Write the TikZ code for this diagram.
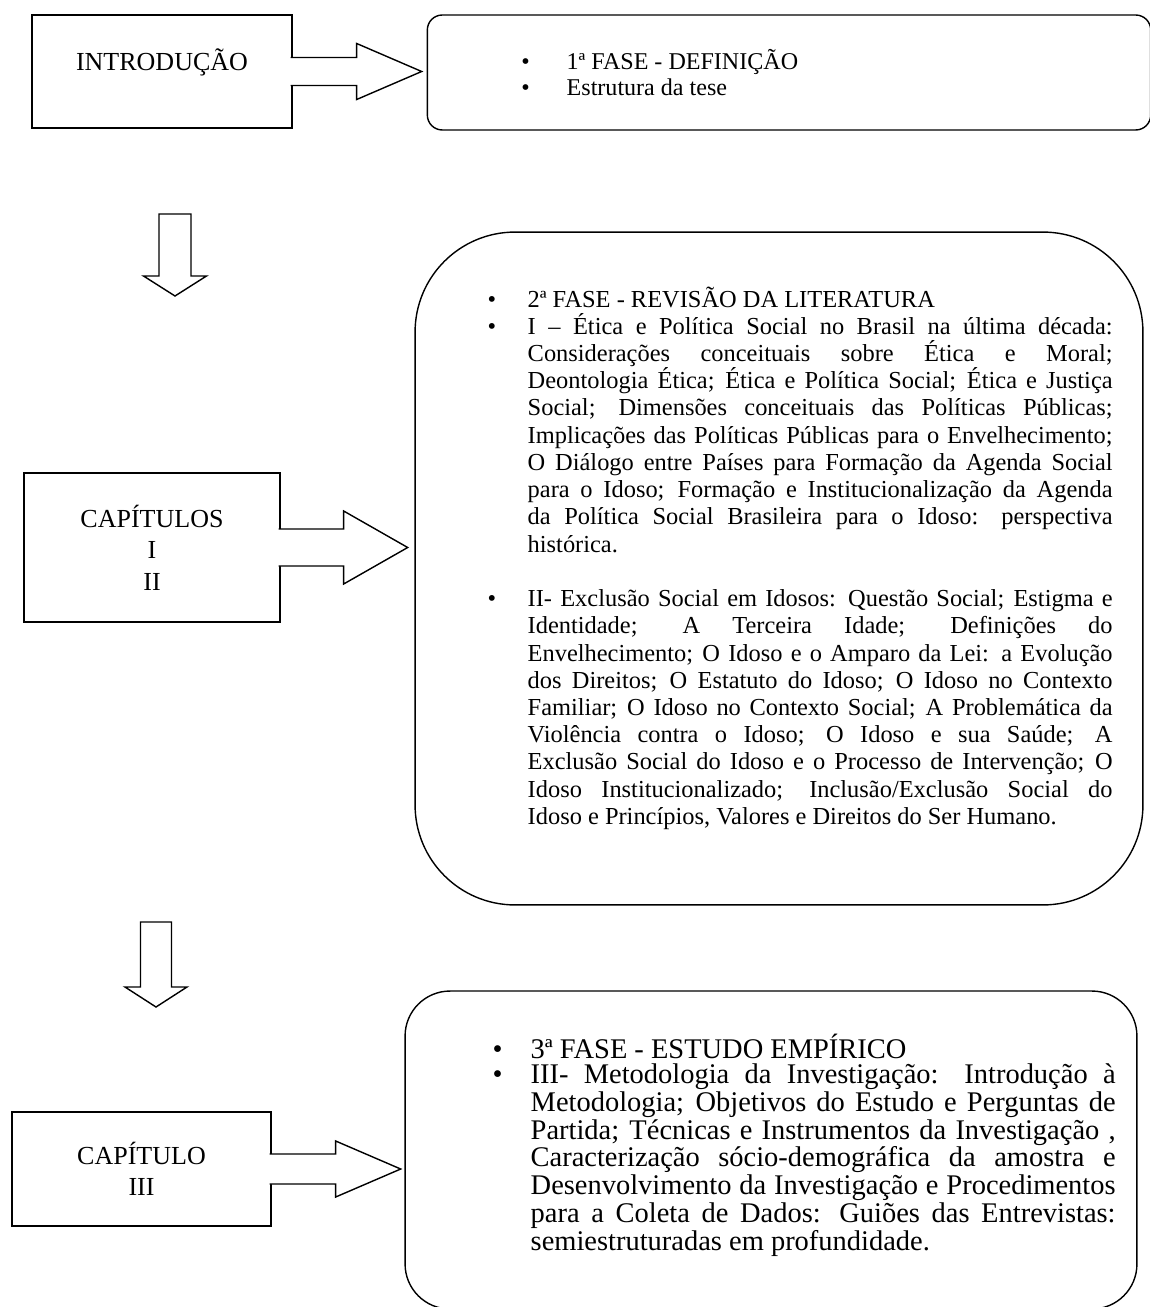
\documentclass[tikz,border=0pt]{standalone}
\usepackage{fontspec}
\setmainfont{Liberation Serif}
\hyphenpenalty=10000
\exhyphenpenalty=10000
\lineskiplimit=-20pt

\begin{document}
\begin{tikzpicture}[
        x=0.02cm, y=-0.02cm,
        line width=0.8pt,
        labelbox/.style={rectangle, draw, align=center, inner sep=0pt,
          font=\fontsize{14.8}{17.9}\selectfont},
        fasebox/.style={rectangle, draw, inner sep=0pt},
        fasetext/.style={anchor=base west, inner sep=0pt, align=justify},
        barrow/.style={draw, fill=white, line join=miter}
      ]
      \useasboundingbox (0,0) rectangle (1149,1307);

      \node [labelbox, minimum width=5.2cm, minimum height=2.26cm] (intro)
      at (162,71.5) {\raisebox{5.4pt}[\height][\depth]{INTRODUÇÃO}};
      \node [labelbox, minimum width=5.12cm, minimum height=2.98cm] (caps)
      at (152,547.5) {CAPÍTULOS\\I\\II};
      \node [labelbox, minimum width=5.18cm, minimum height=2.28cm] (cap3)
      at (141.5,1169) {CAPÍTULO\\III};

      \node [fasebox, rounded corners=0.3cm, minimum width=14.47cm,
      minimum height=2.3cm] (fase1) at (789,72.5) {};
      \node [fasebox, rounded corners=2cm, minimum width=14.56cm,
      minimum height=13.46cm] (fase2) at (779,568.5) {};
      \node [fasebox, rounded corners=0.9cm, minimum width=14.64cm,
      minimum height=6.36cm] (fase3) at (771,1150) {};

      \node [fasetext, text width=10cm, font=\fontsize{13.7}{14.8}\selectfont]
      (fase1txt) at (566,70) {%
        \noindent\llap{\textbullet\hspace{21pt}}1ª FASE - DEFINIÇÃO\par
        \noindent\llap{\textbullet\hspace{21pt}}Estrutura da tese};

      \node [fasetext, text width=11.7cm, font=\fontsize{13.9}{15.5}\selectfont]
      (fase2txt) at (527,307) {%
        \noindent\llap{\textbullet\hspace{18pt}}2ª FASE - REVISÃO DA LITERATURA\par
        \noindent\llap{\textbullet\hspace{18pt}}I – Ética e Política Social no Brasil na última década:\linebreak
        Considerações conceituais sobre Ética e Moral;\linebreak
        Deontologia Ética; Ética e Política Social; Ética e Justiça\linebreak
        Social; Dimensões conceituais das Políticas Públicas;\linebreak
        Implicações das Políticas Públicas para o Envelhecimento;\linebreak
        O Diálogo entre Países para Formação da Agenda Social\linebreak
        para o Idoso; Formação e Institucionalização da Agenda\linebreak
        da Política Social Brasileira para o Idoso: perspectiva\linebreak
        histórica.\par
        \vspace{15.5pt}
        \noindent\llap{\textbullet\hspace{18pt}}II- Exclusão Social em Idosos: Questão Social; Estigma e\linebreak
        Identidade; A Terceira Idade; Definições do\linebreak
        Envelhecimento; O Idoso e o Amparo da Lei: a Evolução\linebreak
        dos Direitos; O Estatuto do Idoso; O Idoso no Contexto\linebreak
        Familiar; O Idoso no Contexto Social; A Problemática da\linebreak
        Violência contra o Idoso; O Idoso e sua Saúde; A\linebreak
        Exclusão Social do Idoso e o Processo de Intervenção; O\linebreak
        Idoso Institucionalizado; Inclusão/Exclusão Social do\linebreak
        Idoso e Princípios, Valores e Direitos do Ser Humano.};

      \node [fasetext, text width=11.7cm, font=\fontsize{16.2}{14.6}\selectfont]
      (fase3txt) at (530,1058) {%
        \noindent\llap{\textbullet\hspace{16pt}}3ª FASE - ESTUDO EMPÍRICO\par
        \noindent\llap{\textbullet\hspace{16pt}}III- Metodologia da Investigação: Introdução à\linebreak
        Metodologia; Objetivos do Estudo e Perguntas de\linebreak
        Partida; Técnicas e Instrumentos da Investigação ,\linebreak
        Caracterização sócio-demográfica da amostra e\linebreak
        Desenvolvimento da Investigação e Procedimentos\linebreak
        para a Coleta de Dados: Guiões das Entrevistas:\linebreak
        semiestruturadas em profundidade.};

      % block arrows from the chapter boxes to the phases
      \draw [barrow] (intro.east) +(-2,-14) -- +(64,-14) -- +(64,-28)
      -- +(129,0) -- +(64,28) -- +(64,14) -- +(-2,14);
      \draw [barrow] (caps.east) +(-2,-18.5) -- +(63,-18.5) -- +(63,-36.5)
      -- +(127,0) -- +(63,36.5) -- +(63,18.5) -- +(-2,18.5);
      \draw [barrow] (cap3.east) +(-2,-15) -- +(64,-15) -- +(64,-28)
      -- +(129,0) -- +(64,28) -- +(64,15) -- +(-2,15);

      % down arrows
      \coordinate (down1) at (175,214);
      \coordinate (down2) at (156,922);
      \draw [barrow] (down1) +(-16,0) -- +(-16,62) -- +(-31.5,62) -- +(0,82)
      -- +(31.5,62) -- +(16,62) -- +(16,0) -- cycle;
      \draw [barrow] (down2) +(-15.5,0) -- +(-15.5,65) -- +(-31,65) -- +(0,85)
      -- +(31,65) -- +(15.5,65) -- +(15.5,0) -- cycle;

    \end{tikzpicture}
\end{document}
